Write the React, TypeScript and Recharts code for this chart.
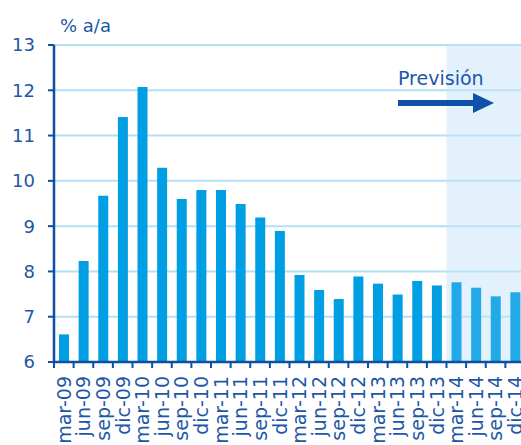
import React from "react";
import {
  Bar,
  BarChart,
  CartesianGrid,
  Cell,
  ReferenceArea,
  XAxis,
  YAxis,
} from "recharts";

const periods = [
  "mar-09", "jun-09", "sep-09", "dic-09",
  "mar-10", "jun-10", "sep-10", "dic-10",
  "mar-11", "jun-11", "sep-11", "dic-11",
  "mar-12", "jun-12", "sep-12", "dic-12",
  "mar-13", "jun-13", "sep-13", "dic-13",
  "mar-14", "jun-14", "sep-14", "dic-14",
];
const growth = [
  6.61, 8.23, 9.67, 11.41,
  12.07, 10.29, 9.6, 9.8,
  9.8, 9.49, 9.19, 8.89,
  7.92, 7.59, 7.39, 7.89,
  7.73, 7.49, 7.79, 7.69,
  7.76, 7.64, 7.45, 7.54,
];
const forecastFrom = "mar-14";
const yTicks = [6, 7, 8, 9, 10, 11, 12, 13];

const data = periods.map((p, i) => ({ period: p, value: growth[i] }));
const firstForecast = periods.indexOf(forecastFrom);

const DARK = "#0d4fa0";
const TEXT = "#1d57a6";
const FONT = "'DejaVu Sans', sans-serif";
const BAND = 19.63;

function PeriodTick(props: any) {
  const { x, y, payload } = props;
  return (
    <g transform={`translate(${x},${y})`}>
      <line x1={-BAND / 2} y1={0} x2={-BAND / 2} y2={6} stroke={DARK} strokeWidth={2} />
      <text
        transform="rotate(-90)"
        x={-14}
        y={0}
        dy="0.36em"
        textAnchor="end"
        fill={TEXT}
        fontSize={19}
        fontFamily={FONT}
      >
        {payload.value}
      </text>
    </g>
  );
}

export default function App() {
  return (
    <div style={{ position: "fixed", left: 0, top: 0, width: 521, height: 445, overflow: "hidden", background: "#fff" }}>
      <BarChart
        width={525}
        height={445}
        data={data}
        margin={{ top: 45, right: 0, bottom: 0, left: 0 }}
        barSize={10}
      >
        <CartesianGrid vertical={false} stroke="#b3e0f6" strokeWidth={2} />
        {/* half-transparent so the grid still shows through the forecast zone */}
        <ReferenceArea
          x1={forecastFrom}
          x2={periods[periods.length - 1]}
          y1={6}
          y2={13}
          fill="#c5e3f7"
          fillOpacity={0.5}
          stroke="none"
        />
        <XAxis
          dataKey="period"
          interval={0}
          height={83}
          tickSize={0}
          tickMargin={0}
          tick={<PeriodTick />}
          axisLine={{ stroke: DARK, strokeWidth: 2.5 }}
          tickLine={false}
        />
        <YAxis
          width={54}
          domain={[6, 13]}
          ticks={yTicks}
          interval={0}
          tickSize={6}
          tickMargin={13}
          axisLine={{ stroke: DARK, strokeWidth: 2.5 }}
          tickLine={{ stroke: DARK, strokeWidth: 2 }}
          tick={{ fill: TEXT, fontSize: 18, fontFamily: FONT }}
        />
        <Bar dataKey="value" isAnimationActive={false}>
          {data.map((d, i) => (
            <Cell key={d.period} fill={i >= firstForecast ? "#22a9e7" : "#009fe3"} />
          ))}
        </Bar>
      </BarChart>
      <svg width={521} height={445} style={{ position: "absolute", left: 0, top: 0, pointerEvents: "none" }}>
        <text x={60} y={32} fill={TEXT} fontSize={18} fontFamily={FONT}>
          % a/a
        </text>
        <text x={398} y={85} fill={TEXT} fontSize={19} fontFamily={FONT}>
          Previsión
        </text>
        <line x1={398} y1={103} x2={475} y2={103} stroke="#0d52a8" strokeWidth={6} />
        <polygon points="473,93 494,103 473,113" fill="#0d52a8" />
      </svg>
    </div>
  );
}
